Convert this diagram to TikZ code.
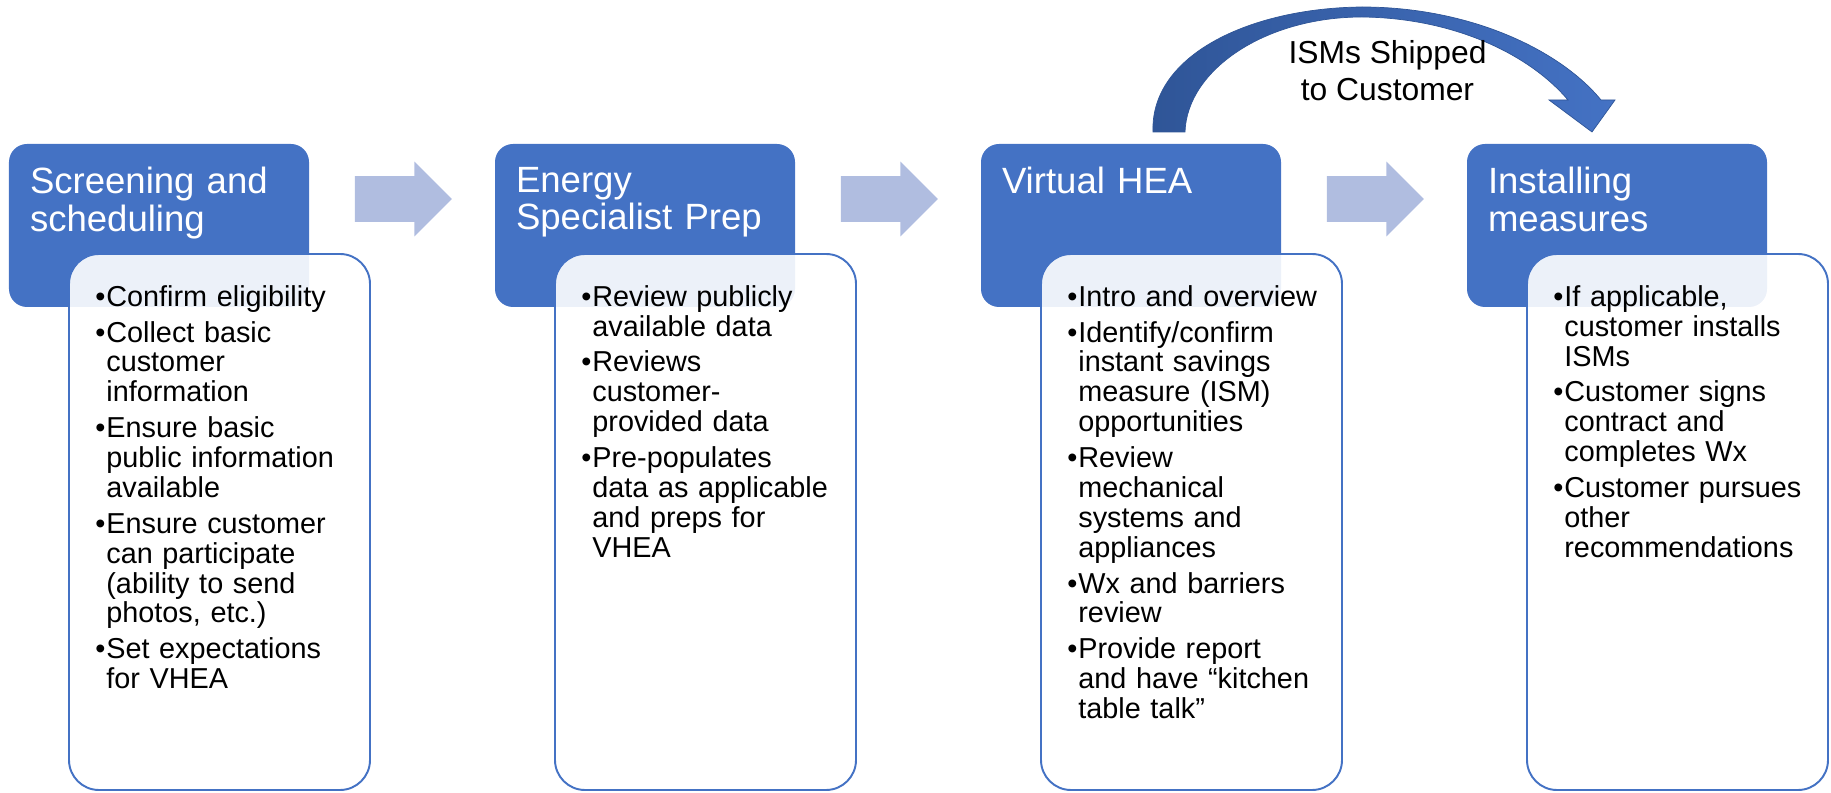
\documentclass[tikz,border=0pt]{standalone}
\usepackage{fontspec}
\setmainfont{Liberation Sans}
\usetikzlibrary{shapes,arrows,calc}
\definecolor{hblue}{RGB}{68,114,196}
\definecolor{ablue}{RGB}{176,189,224}
\definecolor{dblue}{RGB}{47,85,151}
% one bullet point with hanging lines, broken by hand
\newcommand{\itm}[1]{\par\begingroup\let\\\newline
  \noindent\hangindent=0.22cm\hangafter=1
  \makebox[0.22cm][l]{\textbullet}#1\par\endgroup\vspace{3.4pt}}
\tikzstyle{head}=[rectangle,
                  rounded corners=0.36cm,
                  fill=hblue,
                  minimum width=6cm,
                  minimum height=3.26cm,
                  inner sep=0pt]
\tikzstyle{headtext}=[text=white,
                      font=\fontsize{20.8}{21.5}\selectfont,
                      text width=5.6cm,
                      align=left,
                      inner sep=0pt,
                      anchor=north west]
\tikzstyle{body}=[rectangle,
                  rounded corners=0.6cm,
                  draw=hblue,
                  line width=1.1pt,
                  fill=white,
                  fill opacity=0.9,
                  minimum width=6.02cm,
                  minimum height=10.72cm,
                  inner sep=0pt]
\tikzstyle{steps}=[text width=5.2cm,
                   font=\fontsize{16.4}{17}\selectfont\setlength{\parskip}{0pt},
                   inner sep=0pt,
                   anchor=north west]
\tikzstyle{flow}=[single arrow,
                  fill=ablue,
                  minimum height=1.94cm,
                  inner xsep=0pt,
                  inner ysep=0.45cm,
                  single arrow head extend=0.29cm]

\begin{document}
\begin{tikzpicture}
    \useasboundingbox (0,0) rectangle (36.62,15.84);

    % title boxes
    \node[head] (h1) at (3.18,11.33) {};
    \node[head, node distance=9.72cm, right of=h1] (h2) {};
    \node[head, node distance=9.72cm, right of=h2] (h3) {};
    \node[head, node distance=9.72cm, right of=h3] (h4) {};
    \node[headtext] (t1) at ($(h1.north west)+(0.42,-0.46)$) {Screening and\\scheduling};
    \node[headtext] (t2) at ($(h2.north west)+(0.42,-0.46)$) {Energy\\Specialist Prep};
    \node[headtext] (t3) at ($(h3.north west)+(0.42,-0.46)$) {Virtual HEA};
    \node[headtext] (t4) at ($(h4.north west)+(0.42,-0.46)$) {Installing\\measures};

    % task boxes, half covering the titles
    \node[body] (b1) at (4.39,5.40) {};
    \node[body, node distance=9.72cm, right of=b1] (b2) {};
    \node[body, node distance=9.72cm, right of=b2] (b3) {};
    \node[body, node distance=9.72cm, right of=b3] (b4) {};

    \node[steps] (l1) at ($(b1.north west)+(0.54,-0.46)$) {%
      \itm{Confirm eligibility}
      \itm{Collect basic\\customer\\information}
      \itm{Ensure basic\\public information\\available}
      \itm{Ensure customer\\can participate\\(ability to send\\photos, etc.)}
      \itm{Set expectations\\for VHEA}};
    \node[steps] (l2) at ($(b2.north west)+(0.54,-0.46)$) {%
      \itm{Review publicly\\available data}
      \itm{Reviews\\customer-\\provided data}
      \itm{Pre-populates\\data as applicable\\and preps for\\VHEA}};
    \node[steps] (l3) at ($(b3.north west)+(0.54,-0.46)$) {%
      \itm{Intro and overview}
      \itm{Identify/confirm\\instant savings\\measure (ISM)\\opportunities}
      \itm{Review\\mechanical\\systems and\\appliances}
      \itm{Wx and barriers\\review}
      \itm{Provide report\\and have “kitchen\\table talk”}};
    \node[steps] (l4) at ($(b4.north west)+(0.54,-0.46)$) {%
      \itm{If applicable,\\customer installs\\ISMs}
      \itm{Customer signs\\contract and\\completes Wx}
      \itm{Customer pursues\\other\\recommendations}};

    % block arrows between the steps
    \node[flow] (a1) at ($(h1.east)+(1.65,0.53)$) {};
    \node[flow] (a2) at ($(h2.east)+(1.65,0.53)$) {};
    \node[flow] (a3) at ($(h3.east)+(1.65,0.53)$) {};

    % curved arrow over the top
    \shadedraw[left color=dblue, right color=hblue, draw=dblue, line width=0.4pt]
      (23.06,13.20) .. controls (23.00,14.74) and (25.00,15.68) .. (27.24,15.70)
      .. controls (29.40,15.70) and (31.20,14.84) .. (32.02,13.84)
      -- (32.30,13.84) -- (31.84,13.20) -- (30.98,13.84) -- (31.36,13.84)
      .. controls (30.60,14.74) and (29.10,15.48) .. (27.24,15.50)
      .. controls (25.30,15.50) and (23.74,14.44) .. (23.70,13.20) -- cycle;
    \node[align=center, font=\fontsize{18.1}{21}\selectfont, anchor=north, inner sep=0pt] (ship)
      at (27.75,15.04) {ISMs Shipped\\to Customer};
\end{tikzpicture}
\end{document}
